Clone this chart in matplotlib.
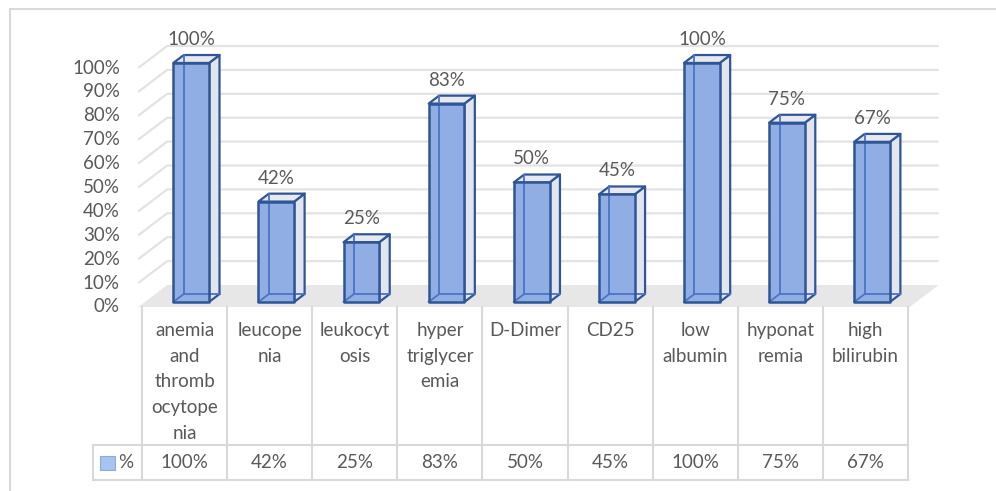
import numpy as np
import matplotlib.pyplot as plt
from matplotlib.patches import Polygon
from matplotlib.lines import Line2D

plt.rcParams['font.family'] = ['Lato', 'DejaVu Sans']

categories = ['anemia\nand\nthromb\nocytope\nnia', 'leucope\nnia', 'leukocyt\nosis',
              'hyper\ntriglycer\nemia', 'D-Dimer', 'CD25', 'low\nalbumin',
              'hyponat\nremia', 'high\nbilirubin']
values = [100, 42, 25, 83, 50, 45, 100, 75, 67]
ticks = list(range(0, 101, 10))
series_name = '%'

TXT = '#595959'
GRID = '#e3e3e3'
EDGE = '#2f5597'
FRONT = '#91aee4'
SIDE = '#e2e5ed'
TOP = '#e8e9ee'
FS = 13.5

# oblique depth: one unit of depth moves this far in x (categories) and y (percent)
DX, DY = 0.34, 9.2
D0, D1 = 0.23, 0.59      # bar front / back depth
W = 0.42                 # bar width in category units

fig = plt.figure(figsize=(9.96, 4.91), dpi=100)

ax = fig.add_axes([142 / 996, (491 - 307) / 491, 766 / 996, 239 / 491])
ax.set_xlim(0, 9)
ax.set_ylim(0, 100)
ax.axis('off')

def P(x, y, d):
    return (x + d * DX, y + d * DY)

# floor
n = len(categories)
x_left, x_right = -0.045, n + 0.02
ax.add_patch(Polygon([P(x_left, 0, 0), P(x_left, 0, 1), P(x_right, 0, 1), P(x_right, 0, 0)],
                     closed=True, facecolor='#e7e7e7', edgecolor='none', clip_on=False, zorder=1))

# side wall + back wall gridlines
for t in ticks[1:]:
    pts = [P(x_left, t, 0), P(x_left, t, 1), P(x_right, t, 1)]
    ax.plot([p[0] for p in pts], [p[1] for p in pts], color=GRID, lw=1.6,
            clip_on=False, zorder=1, solid_capstyle='butt')

for t in ticks:
    ax.text(-0.26, t, f'{t}%', ha='right', va='center', color=TXT, fontsize=FS, clip_on=False)

# 3-D style columns
for i, v in enumerate(values):
    xl = i + 0.5 - W / 2
    xr = xl + W
    side = [P(xr, 0, D0), P(xr, 0, D1), P(xr, v, D1), P(xr, v, D0)]
    top = [P(xl, v, D0), P(xr, v, D0), P(xr, v, D1), P(xl, v, D1)]
    front = [P(xl, 0, D0), P(xr, 0, D0), P(xr, v, D0), P(xl, v, D0)]
    ax.add_patch(Polygon(side, closed=True, facecolor=SIDE, edgecolor=EDGE, lw=1.6,
                         clip_on=False, zorder=3, joinstyle='round'))
    ax.add_patch(Polygon(top, closed=True, facecolor=TOP, edgecolor=EDGE, lw=1.6,
                         clip_on=False, zorder=3, joinstyle='round'))
    ax.add_patch(Polygon(front, closed=True, facecolor=FRONT, edgecolor='none',
                         clip_on=False, zorder=4))
    # edges seen through the transparent front face
    for a, b in [((xl, 0, D1), (xl, v, D1)), ((xl, 0, D1), (xr, 0, D1)), ((xl, 0, D0), (xl, 0, D1))]:
        pa, pb = P(*a), P(*b)
        ax.plot([pa[0], pb[0]], [pa[1], pb[1]], color='#4a74c4', lw=1.3, clip_on=False, zorder=5)
    ax.add_patch(Polygon(front, closed=True, facecolor='none', edgecolor=EDGE, lw=1.8,
                         clip_on=False, zorder=6, joinstyle='round'))
    lx, ly = P(i + 0.5, v, D0)
    ax.text(lx, v + D1 * DY + 6.5, f'{v}%', ha='center', va='center', color=TXT,
            fontsize=FS, clip_on=False, zorder=7)

# data table below the plot
tab = fig.add_axes([142 / 996, (491 - 480) / 491, 766 / 996, 173 / 491])
tab.set_xlim(0, 9)
tab.set_ylim(0, 173)
tab.axis('off')
LC = '#d9d9d9'
row = 35
for k in range(n + 1):
    tab.plot([k, k], [0, 173], color=LC, lw=1.5, clip_on=False)
for yy in (0, row):
    tab.plot([-0.577, n], [yy, yy], color=LC, lw=1.5, clip_on=False)
tab.plot([-0.577, -0.577], [0, row], color=LC, lw=1.5, clip_on=False)

for k, (c, v) in enumerate(zip(categories, values)):
    tab.text(k + 0.5, 173 - 15, c, ha='center', va='top', color=TXT, fontsize=FS,
             linespacing=1.62, clip_on=False)
    tab.text(k + 0.5, row / 2, f'{v}%', ha='center', va='center', color=TXT,
             fontsize=FS, clip_on=False)

# legend key in the table
tab.add_patch(plt.Rectangle((-0.49, row / 2 - 7), 0.17, 14, facecolor='#a9c3f0',
                            edgecolor='#8eaadc', lw=0.8, clip_on=False))
tab.text(-0.28, row / 2, series_name, ha='left', va='center', color=TXT, fontsize=FS,
         clip_on=False)

# chart area border
fig.add_artist(Line2D([10 / 996, 10 / 996, 1.0], [0.0, 1 - 9 / 491, 1 - 9 / 491],
                      transform=fig.transFigure, color='#d9d9d9', lw=1.5))

fig.savefig('out.png', dpi=100, facecolor='white')
